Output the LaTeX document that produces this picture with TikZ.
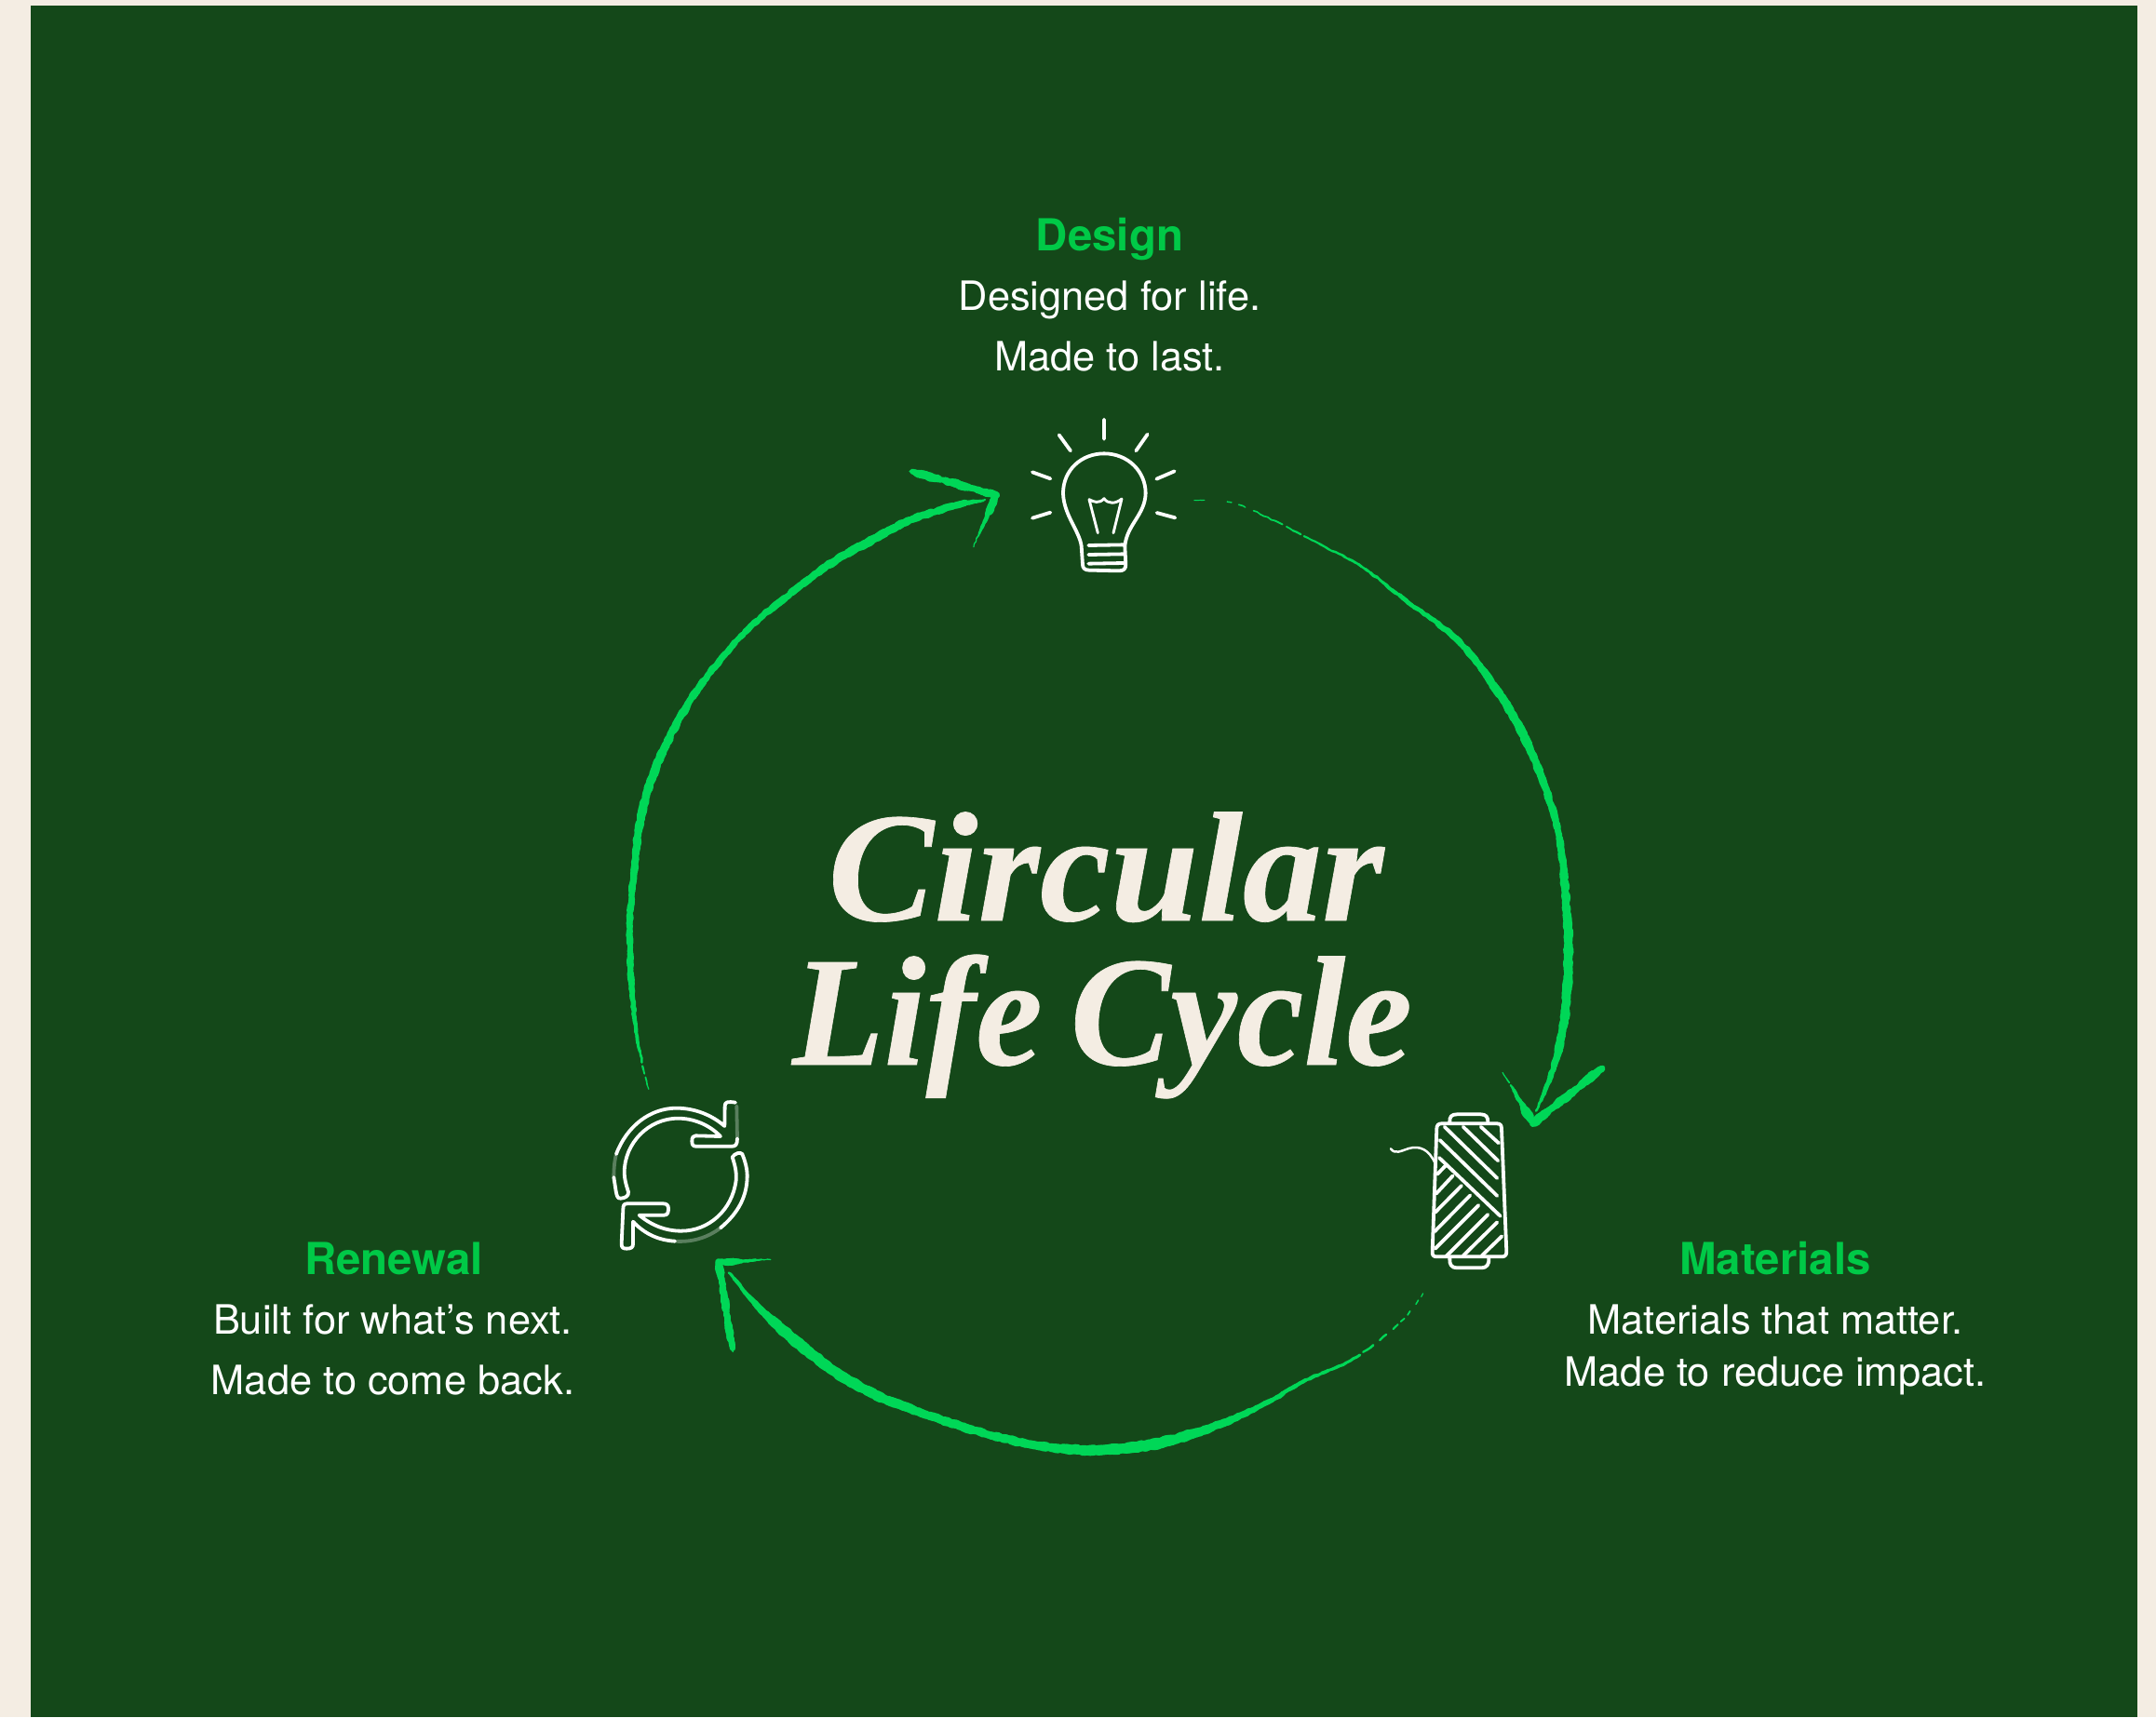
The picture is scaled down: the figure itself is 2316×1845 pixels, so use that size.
\documentclass[tikz,border=0pt]{standalone}
\usepackage{fontspec}
\setmainfont{TeX Gyre Heros}
\newfontfamily\titlefont[BoldItalicFeatures={FakeBold=0.4}]{Liberation Serif}
\definecolor{paper}{HTML}{F4EDE3}
\definecolor{panel}{HTML}{144819}
\definecolor{chalk}{HTML}{00D757}
\definecolor{leaf}{HTML}{00C947}
\newdimen\chDx
\newdimen\chDy
\newcommand{\chGet}[3]{%
  \pgfextractx{\chDx}{\pgfpointanchor{#1}{center}}%
  \pgfextracty{\chDy}{\pgfpointanchor{#1}{center}}%
  \pgfmathsetmacro{#2}{\chDx}\pgfmathsetmacro{#3}{\chDy}%
}
% one short chalk dab from the previous sample to (#1,#2) at progress #3
\newcommand{\chalkdab}[3]{%
  \pgfmathsetmacro{\chP}{min(1,#3/\chFade)}%
  \pgfmathsetmacro{\chE}{max(0,min(1,(1-#3)/\chEnd))}%
  \pgfmathsetmacro{\chR}{0.25*\chW*(0.12+0.88*\chP*\chP)*(0.3+0.7*\chE)*(0.8+0.14*sin(#3*1000)+0.24*rnd)}%
  \pgfmathsetmacro{\chS}{rnd<(\chP*2+0.1) ? 1 : 0}%
  \pgfmathsetmacro{\chNx}{#1+0.3*(rnd-0.5)}%
  \pgfmathsetmacro{\chNy}{#2+0.3*(rnd-0.5)}%
  \ifdim\chS pt>0.5pt
    \draw[chalk,line cap=round,line width=\chR pt] (\chLx pt,\chLy pt)--(\chNx pt,\chNy pt);
  \fi
  \xdef\chLx{\chNx}\xdef\chLy{\chNy}%
}
% smooth stroke through named points #1 0 ... #1 #2
\newcommand{\chalkstroke}[5]{%
  \def\chW{#3}\def\chFade{#4}\def\chEnd{#5}%
  \chGet{#10}{\cXa}{\cYa}\xdef\chLx{\cXa}\xdef\chLy{\cYa}%
  \pgfmathtruncatemacro{\chN}{#2-1}%
  \foreach \i in {0,...,\chN}{%
    \pgfmathtruncatemacro{\ip}{max(\i-1,0)}%
    \pgfmathtruncatemacro{\iq}{\i+1}%
    \pgfmathtruncatemacro{\ir}{min(\i+2,#2)}%
    \chGet{#1\ip}{\cXa}{\cYa}\chGet{#1\i}{\cXb}{\cYb}\chGet{#1\iq}{\cXc}{\cYc}\chGet{#1\ir}{\cXd}{\cYd}%
    \pgfmathtruncatemacro{\chK}{max(2,ceil(veclen(\cXc-\cXb,\cYc-\cYb)/1.1))}%
    \foreach \k in {1,...,\chK}{%
      \pgfmathsetmacro{\chU}{\k/\chK}%
      \pgfmathsetmacro{\chX}{0.5*(2*\cXb+\chU*((\cXc-\cXa)+\chU*((2*\cXa-5*\cXb+4*\cXc-\cXd)+\chU*(3*\cXb-3*\cXc+\cXd-\cXa))))}%
      \pgfmathsetmacro{\chY}{0.5*(2*\cYb+\chU*((\cYc-\cYa)+\chU*((2*\cYa-5*\cYb+4*\cYc-\cYd)+\chU*(3*\cYb-3*\cYc+\cYd-\cYa))))}%
      \pgfmathsetmacro{\chT}{(\i+\chU)/#2}%
      \chalkdab{\chX}{\chY}{\chT}%
    }%
  }%
}
% straight stroke from #1 to #2
\newcommand{\chalkbar}[5]{%
  \def\chW{#3}\def\chFade{#4}\def\chEnd{#5}%
  \chGet{#1}{\cXa}{\cYa}\chGet{#2}{\cXb}{\cYb}\xdef\chLx{\cXa}\xdef\chLy{\cYa}%
  \pgfmathtruncatemacro{\chK}{max(2,ceil(veclen(\cXb-\cXa,\cYb-\cYa)/0.8))}%
  \foreach \k in {1,...,\chK}{%
    \pgfmathsetmacro{\chU}{\k/\chK}%
    \pgfmathsetmacro{\chX}{\cXa+\chU*(\cXb-\cXa)}%
    \pgfmathsetmacro{\chY}{\cYa+\chU*(\cYb-\cYa)}%
    \chalkdab{\chX}{\chY}{\chU}%
  }%
}
\tikzset{
  icon/.style={draw=white,line width=.95pt,line cap=round,line join=round,fill=none},
  faded/.style={icon,draw opacity=.3},
  lblhead/.style={anchor=base,inner sep=0pt,text=leaf,font=\fontsize{11.85pt}{12.5pt}\selectfont\bfseries},
  lbltext/.style={anchor=base,inner sep=0pt,text=white,font=\fontsize{10.85pt}{12.5pt}\selectfont},
  bigtitle/.style={anchor=base,inner sep=0pt,text=paper,font=\fontsize{42pt}{42.5pt}\titlefont\bfseries\itshape}
}
\pgfmathsetseed{4217}
\begin{document}
\begin{tikzpicture}[x=.25pt,y=-.25pt]
\useasboundingbox (0,0) rectangle (2316,1845);
\fill[paper] (0,0) rectangle (2316,1845);
\fill[panel] (33,6) rectangle (2296,1845);

% title
\node[bigtitle] (title1) at (1188,989) {\scalebox{1.015}[1]{Circular}};
\node[bigtitle] (title2) at (1184,1144) {\scalebox{.96}[1]{Life}\hspace{7.5pt}\scalebox{.96}[1]{Cycle}};

% labels
\node[lblhead] (designhead) at (1192,269) {Design};
\node[lbltext] (designa) at (1192,333) {Designed for life.};
\node[lbltext] (designb) at (1192,398) {Made to last.};
\node[lblhead] (renewhead) at (423,1369) {Renewal};
\node[lbltext] (renewa) at (422,1433) {Built for what’s next.};
\node[lbltext] (renewb) at (422,1498) {Made to come back.};
\node[lblhead] (mathead) at (1907,1369) {Materials};
\node[lbltext] (mata) at (1907,1433) {Materials that matter.};
\node[lbltext] (matb) at (1907,1489) {Made to reduce impact.};

% bulb icon
\begin{scope}[shift={(1060,430)},x=.08333pt,y=-.08333pt]
\coordinate (bulb) at (378,350);
\draw[icon] (378,62)--(378,125) (233,112)--(270,163) (518,110)--(481,163)
  (147,232)--(205,253) (605,229)--(547,254) (147,380)--(205,362) (607,379)--(548,363);
\draw[icon] (309,530)--(305,470) .. controls (298,420) and (248,370) .. (246,300)
  .. controls (246,225) and (305,172) .. (378,172)
  .. controls (455,172) and (512,230) .. (512,300)
  .. controls (510,370) and (452,400) .. (445,470) -- (448,530)
  .. controls (448,545) and (440,550) .. (425,550) -- (330,548)
  .. controls (315,548) and (309,540) .. (309,530);
\draw[icon] (328,468)--(442,466) (328,498)--(442,496) (328,527)--(442,525);
\draw[icon,line width=.72pt] (358,428)--(330,320) .. controls (345,328) and (362,335) .. (378,317)
  .. controls (390,335) and (415,335) .. (435,318) -- (408,428);
\end{scope}

% spool icon
\begin{scope}[shift={(1470,1120)},x=.08333pt,y=-.08333pt]
\coordinate (spool) at (325,480);
\draw[icon] (235,262)--(415,262) .. controls (425,262) and (429,268) .. (429,278)
  -- (445,675) .. controls (445,686) and (440,691) .. (430,691) -- (220,691)
  .. controls (210,691) and (205,686) .. (206,675) -- (220,278) .. controls (220,268) and (225,262) .. (235,262);
\draw[icon] (262,258) .. controls (260,240) and (268,232) .. (285,232) -- (362,232) .. controls (378,232) and (386,240) .. (385,258);
\draw[icon] (262,695) .. controls (260,716) and (268,727) .. (285,727) -- (365,727) .. controls (380,727) and (390,716) .. (388,695);
\draw[icon,line width=.62pt] (72,343) .. controls (85,362) and (105,350) .. (130,342)
  .. controls (165,332) and (195,345) .. (215,390);
\draw[icon] (362,272)--(420,325) (305,272)--(418,382) (245,272)--(415,438)
  (230,315)--(415,495) (228,372)--(425,560);
\draw[icon] (248,398)--(222,425) (272,430)--(218,488) (300,462)--(215,548)
  (328,493)--(213,610) (355,525)--(215,665) (385,555)--(250,690) (415,580)--(305,688) (430,625)--(365,688);
\end{scope}

% renewal icon
\begin{scope}[shift={(630,1160)},x=.08333pt,y=-.08333pt]
\coordinate (renew) at (300,310);
\draw[icon] (96,240) .. controls (130,150) and (205,92) .. (290,92)
  .. controls (350,92) and (405,115) .. (445,150) -- (446,85) .. controls (446,72) and (455,70) .. (480,74);
\draw[faded] (88,315) .. controls (88,290) and (90,262) .. (96,240) (484,85)--(486,190);
\draw[icon] (486,190) .. controls (486,210) and (480,215) .. (470,215) -- (352,215)
  .. controls (342,215) and (340,208) .. (340,198) .. controls (340,185) and (345,181) .. (352,181) -- (432,183)
  .. controls (395,145) and (345,125) .. (295,125) .. controls (200,125) and (122,205) .. (122,300)
  .. controls (122,320) and (128,340) .. (135,362) .. controls (137,375) and (125,382) .. (110,383)
  .. controls (100,384) and (98,375) .. (95,360) -- (88,315);
\draw[icon] (432,478) .. controls (490,430) and (518,375) .. (518,310)
  .. controls (518,285) and (510,260) .. (502,240) .. controls (495,232) and (478,238) .. (470,250)
  .. controls (480,280) and (484,300) .. (482,325) .. controls (470,420) and (395,488) .. (305,488)
  .. controls (255,488) and (210,470) .. (170,437) -- (250,437)
  .. controls (262,437) and (264,428) .. (264,415) .. controls (264,405) and (258,400) .. (248,400)
  -- (130,400) .. controls (120,400) and (118,408) .. (118,418) -- (113,530)
  .. controls (113,542) and (118,545) .. (130,545) .. controls (145,545) and (150,540) .. (150,530) -- (150,458)
  .. controls (190,500) and (235,518) .. (285,521);
\draw[faded] (285,521) .. controls (340,525) and (390,510) .. (432,478);
\end{scope}

% waypoints and arrows
\coordinate (a0) at (702,1187);
\coordinate (a1) at (693,1157);
\coordinate (a2) at (685,1117);
\coordinate (a3) at (680,1077);
\coordinate (a4) at (677,1033);
\coordinate (a5) at (677,983);
\coordinate (a6) at (682,927);
\coordinate (a7) at (688,880);
\coordinate (a8) at (705,823);
\coordinate (a9) at (737,760);
\coordinate (a10) at (773,710);
\coordinate (a11) at (810,670);
\coordinate (a12) at (850,637);
\coordinate (a13) at (893,605);
\coordinate (a14) at (943,577);
\coordinate (a15) at (980,558);
\coordinate (a16) at (1027,543);
\coordinate (a17) at (1058,537);
\chalkstroke{a}{17}{8.5}{.22}{.05}
\coordinate (ah1) at (1043,593);
\coordinate (ah2) at (1070,532);
\coordinate (ah3) at (977,506);
\chalkbar{ah1}{ah2}{8.5}{.8}{.01}
\chalkbar{ah2}{ah3}{8.5}{.01}{.03}

\coordinate (b0) at (1280,537);
\coordinate (b1) at (1323,540);
\coordinate (b2) at (1370,560);
\coordinate (b3) at (1420,586);
\coordinate (b4) at (1463,609);
\coordinate (b5) at (1507,643);
\coordinate (b6) at (1567,689);
\coordinate (b7) at (1613,749);
\coordinate (b8) at (1643,804);
\coordinate (b9) at (1667,868);
\coordinate (b10) at (1677,914);
\coordinate (b11) at (1683,978);
\coordinate (b12) at (1685,1029);
\coordinate (b13) at (1680,1098);
\coordinate (b14) at (1667,1153);
\coordinate (b15) at (1650,1194);
\chalkstroke{b}{15}{9.5}{.5}{.1}
\coordinate (bh1) at (1613,1150);
\coordinate (bh2) at (1647,1207);
\coordinate (bh3) at (1723,1146);
\chalkbar{bh1}{bh2}{9}{.8}{.01}
\chalkbar{bh2}{bh3}{9}{.01}{.03}

\coordinate (c0) at (1536,1380);
\coordinate (c1) at (1505,1420);
\coordinate (c2) at (1454,1460);
\coordinate (c3) at (1403,1483);
\coordinate (c4) at (1342,1517);
\coordinate (c5) at (1260,1547);
\coordinate (c6) at (1179,1558);
\coordinate (c7) at (1097,1550);
\coordinate (c8) at (995,1520);
\coordinate (c9) at (918,1487);
\coordinate (c10) at (862,1447);
\coordinate (c11) at (817,1407);
\coordinate (c12) at (783,1367);
\chalkstroke{c}{12}{11}{.42}{.12}
\coordinate (ch1) at (837,1353);
\coordinate (ch2) at (772,1356);
\coordinate (ch3) at (787,1452);
\chalkbar{ch1}{ch2}{8}{.85}{.01}
\chalkbar{ch2}{ch3}{8}{.01}{.03}
\end{tikzpicture}
\end{document}
